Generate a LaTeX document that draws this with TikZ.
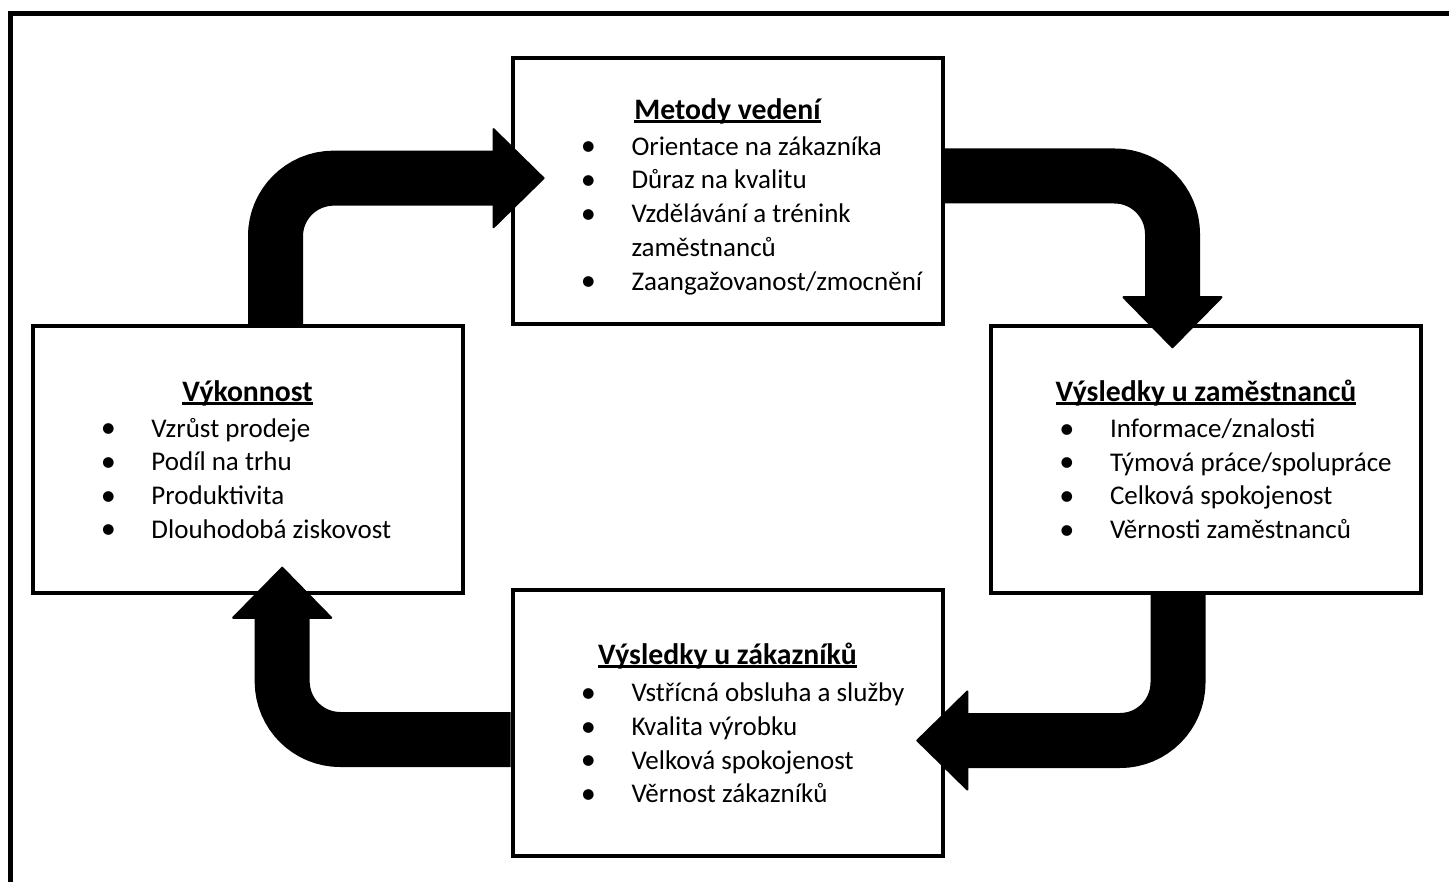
\documentclass[tikz,border=0pt]{standalone}
\usepackage{fontspec}
\usepackage{graphicx}
\setmainfont{Carlito}
\usetikzlibrary{arrows.meta}

% bold heading with a low underline that cuts through descenders
\newcommand{\boxtitle}[1]{{\fontsize{29.7pt}{35pt}\selectfont\bfseries
  \setbox0\hbox{#1}\rlap{\rule[-4pt]{\wd0}{3pt}}\box0}}
% bullet item and its continuation line
\newcommand{\bul}[1]{\hspace*{76pt}\makebox[0pt]{\raisebox{-0.7pt}{\scalebox{1.12}{\textbullet}}}\hspace*{43pt}#1}
\newcommand{\cont}[1]{\hspace*{119pt}#1}

\begin{document}
\begin{tikzpicture}[x=1pt,y=-1pt,
  panel/.style={draw=black, line width=4pt, fill=white,
    minimum width=430pt, minimum height=266pt, inner sep=0pt,
    text width=430pt, align=flush left,
    font=\fontsize{27pt}{33.7pt}\selectfont,
    execute at begin node={\spaceskip=0pt\xspaceskip=0pt}},
  flow/.style={draw=black, line width=55pt, rounded corners=58pt,
    -{Triangle[length=52.5pt,width=102.5pt,line width=2pt,round]}}]

\useasboundingbox (0,0) rectangle (1449,882);
\clip (0,0) rectangle (1449,882);

% page frame
\draw[line width=5pt] (10.5,14) rectangle (1490,930);

\node[panel] (met) at (727.5,191) {%
\makebox[\linewidth]{\rule{0pt}{32pt}\boxtitle{Metody vedení}}\\[2.3pt]
\bul{Orientace na zákazníka}\\
\bul{Důraz na kvalitu}\\
\bul{Vzdělávání a trénink}\\
\cont{zaměstnanců}\\
\bul{Zaangažovanost/zmocnění}};

\node[panel] (vyk) at (247.5,459.5) {%
\makebox[\linewidth]{\boxtitle{Výkonnost}}\\[2.3pt]
\bul{Vzrůst prodeje}\\
\bul{Podíl na trhu}\\
\bul{Produktivita}\\
\bul{Dlouhodobá ziskovost}};

\node[panel] (zam) at (1206,459.5) {%
\makebox[\linewidth]{\boxtitle{Výsledky u zaměstnanců}}\\[2.3pt]
\bul{Informace/znalosti}\\
\bul{Týmová práce/spolupráce}\\
\bul{Celková spokojenost}\\
\bul{Věrnosti zaměstnanců}};

\node[panel] (zak) at (727.5,723) {%
\makebox[\linewidth]{\boxtitle{Výsledky u zákazníků}}\\[4pt]
\bul{Vstřícná obsluha a služby}\\
\bul{Kvalita výrobku}\\
\bul{Velková spokojenost}\\
\bul{Věrnost zákazníků}};

% arrow tips
\coordinate (t1) at (544.6,178.2);
\coordinate (t2) at (1172.5,348.3);
\coordinate (t3) at (916.3,740.5);
\coordinate (t4) at (282.2,566.7);

% cycle arrows
\draw[flow] ([xshift=28pt]vyk.north) |- (t1);
\draw[flow] ([yshift=15pt]met.east) -| (t2);
\draw[flow] ([xshift=-28pt]zam.south) |- (t3);
\draw[flow] ([yshift=-16.5pt]zak.west) -| (t4);
\end{tikzpicture}
\end{document}
